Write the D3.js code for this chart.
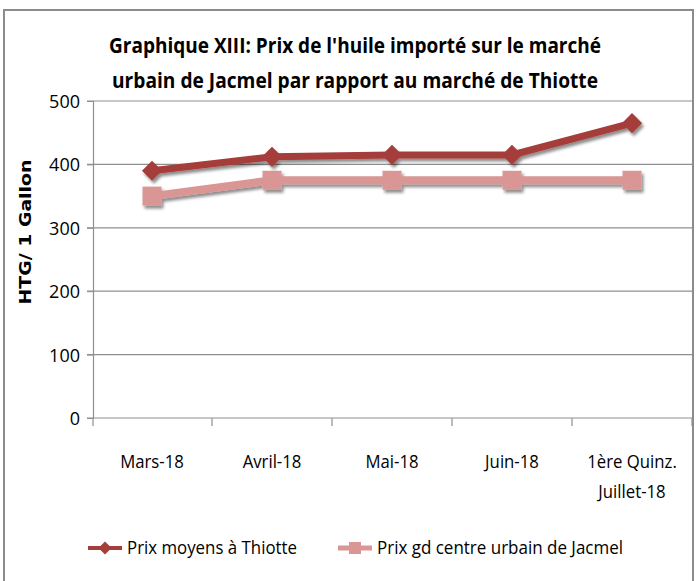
<!DOCTYPE html>
<html>
<head>
<meta charset="utf-8">
<script src="https://cdn.jsdelivr.net/npm/d3@7"></script>
<style>
  body { margin: 0; background: #fff; }
  text { font-family: "Liberation Sans Narrow", "Arial Narrow", "Open Sans", sans-serif; fill: #000; }
</style>
</head>
<body>
<div id="chart"></div>
<script>
var categories = ["Mars-18", "Avril-18", "Mai-18", "Juin-18", "1ère Quinz.|Juillet-18"];
var thiotte = [390, 412, 415, 415, 465];
var jacmel = [350, 375, 375, 375, 375];
var yTicks = [0, 100, 200, 300, 400, 500];
var seriesNames = ["Prix moyens à Thiotte", "Prix gd centre urbain de Jacmel"];
var titleLines = ["Graphique XIII: Prix de l'huile importé sur le marché",
                  "urbain de Jacmel par rapport au marché de Thiotte"];

var width = 696,
    height = 581;

var svg = d3.select("#chart")
  .append("svg")
    .attr("width", width)
    .attr("height", height);

var defs = svg.append("defs");
var shadow = defs.append("filter").attr("id", "shadow")
    .attr("x", "-30%").attr("y", "-30%").attr("width", "160%").attr("height", "160%");
shadow.append("feGaussianBlur").attr("in", "SourceAlpha").attr("stdDeviation", 1.6);
shadow.append("feOffset").attr("dx", 2).attr("dy", 2.5).attr("result", "off");
shadow.append("feComponentTransfer").append("feFuncA").attr("type", "linear").attr("slope", 0.45);
var merge = shadow.append("feMerge");
merge.append("feMergeNode");
merge.append("feMergeNode").attr("in", "SourceGraphic");

// outer frame
svg.append("rect")
  .attr("x", 4).attr("y", 10)
  .attr("width", 689).attr("height", 600)
  .attr("fill", "none")
  .attr("stroke", "#8c8c8c")
  .attr("stroke-width", 2);

var plotLeft = 93, plotRight = 693, plotTop = 101, plotBottom = 418;

var x = d3.scaleBand()
  .domain(categories)
  .range([plotLeft - 1, plotRight - 1]);

var y = d3.scaleLinear()
  .domain([0, 500])
  .range([plotBottom, plotTop]);

// gridlines
svg.append("g")
  .selectAll("line")
  .data(yTicks)
  .enter()
  .append("line")
    .attr("x1", plotLeft - 6).attr("x2", plotRight - 1)
    .attr("y1", function(d){ return y(d); })
    .attr("y2", function(d){ return y(d); })
    .attr("stroke", "#8f8f8f")
    .attr("stroke-width", 1.2);

// y axis
var yAxis = svg.append("g")
  .attr("transform", "translate(" + plotLeft + ",0)")
  .call(d3.axisLeft(y).tickValues(yTicks).tickSize(6).tickPadding(7));
yAxis.select(".domain").attr("stroke", "#8f8f8f").attr("stroke-width", 1.2);
yAxis.selectAll(".tick line").attr("stroke", "#8f8f8f");
yAxis.selectAll(".tick text")
  .style("font-size", "18px")
  .attr("dy", "0.36em");

// x axis ticks (between categories)
svg.append("line")
  .attr("x1", plotLeft).attr("x2", plotLeft)
  .attr("y1", plotBottom).attr("y2", plotBottom + 8)
  .attr("stroke", "#8f8f8f").attr("stroke-width", 1.2);
svg.append("g")
  .selectAll("line")
  .data(categories)
  .enter()
  .append("line")
    .attr("x1", function(d){ return x(d) + x.bandwidth(); })
    .attr("x2", function(d){ return x(d) + x.bandwidth(); })
    .attr("y1", plotBottom).attr("y2", plotBottom + 8)
    .attr("stroke", "#8f8f8f").attr("stroke-width", 1.2);

var labels = svg.append("g")
  .selectAll("text")
  .data(categories)
  .enter()
  .append("text")
    .attr("text-anchor", "middle")
    .style("font-size", "18px")
    .attr("transform", function(d){ return "translate(" + (x(d) + x.bandwidth() / 2) + "," + (plotBottom + 50) + ") scale(0.93,1)"; });
labels.selectAll("tspan")
  .data(function(d){ return d.split("|"); })
  .enter()
  .append("tspan")
    .attr("x", 0)
    .attr("dy", function(d, i){ return i == 0 ? 0 : 30; })
    .text(function(d){ return d; });

// y axis title
svg.append("text")
  .attr("transform", "translate(31,232) rotate(-90)")
  .attr("text-anchor", "middle")
  .style("font-family", "'DejaVu Sans', Verdana, sans-serif")
  .style("font-weight", "bold")
  .style("font-size", "16px")
  .attr("textLength", 145)
  .attr("lengthAdjust", "spacingAndGlyphs")
  .text("HTG/ 1 Gallon");

// title
svg.append("g")
  .selectAll("text")
  .data(titleLines)
  .enter()
  .append("text")
    .attr("x", 355)
    .attr("y", function(d, i){ return 53 + i * 35; })
    .attr("text-anchor", "middle")
    .style("font-size", "21px")
    .style("font-weight", "bold")
    .attr("textLength", function(d, i){ return i == 0 ? 492 : 486; })
    .attr("lengthAdjust", "spacingAndGlyphs")
    .text(function(d){ return d; });

var line = d3.line()
  .x(function(d, i){ return x(categories[i]) + x.bandwidth() / 2; })
  .y(function(d){ return y(d); });

var red = "#a53d3b", pink = "#d99694";

var g2 = svg.append("g").attr("filter", "url(#shadow)");
g2.append("path")
  .datum(jacmel)
  .attr("d", line)
  .attr("fill", "none")
  .attr("stroke", pink)
  .attr("stroke-width", 8);
g2.selectAll("rect")
  .data(jacmel)
  .enter()
  .append("rect")
    .attr("x", function(d, i){ return x(categories[i]) + x.bandwidth() / 2 - 9.5; })
    .attr("y", function(d){ return y(d) - 9.5; })
    .attr("width", 19).attr("height", 19)
    .attr("fill", pink);

var g1 = svg.append("g").attr("filter", "url(#shadow)");
g1.append("path")
  .datum(thiotte)
  .attr("d", line)
  .attr("fill", "none")
  .attr("stroke", red)
  .attr("stroke-width", 7);
var diamond = d3.symbol().type(d3.symbolDiamond2).size(260);
g1.selectAll("path.pt")
  .data(thiotte)
  .enter()
  .append("path")
    .attr("class", "pt")
    .attr("d", diamond)
    .attr("transform", function(d, i){ return "translate(" + (x(categories[i]) + x.bandwidth() / 2) + "," + y(d) + ")"; })
    .attr("fill", red);

// legend
var legend = svg.append("g");
var legX = [88, 338], legLen = [170, 246];
var legItems = legend.selectAll("g")
  .data(seriesNames)
  .enter()
  .append("g")
    .attr("transform", function(d, i){ return "translate(" + legX[i] + ",548)"; });
legItems.append("line")
  .attr("x1", 0).attr("x2", 34)
  .attr("stroke", function(d, i){ return i == 0 ? red : pink; })
  .attr("stroke-width", function(d, i){ return i == 0 ? 4 : 5; });
legItems.filter(function(d, i){ return i == 0; })
  .append("path")
    .attr("d", d3.symbol().type(d3.symbolDiamond2).size(110))
    .attr("transform", "translate(17,0)")
    .attr("fill", red);
legItems.filter(function(d, i){ return i == 1; })
  .append("rect")
    .attr("x", 11).attr("y", -6).attr("width", 12).attr("height", 12)
    .attr("fill", pink);
legItems.append("text")
  .attr("x", 39)
  .attr("dy", "0.35em")
  .style("font-size", "18px")
  .attr("textLength", function(d, i){ return legLen[i]; })
  .attr("lengthAdjust", "spacingAndGlyphs")
  .text(function(d){ return d; });
</script>
</body>
</html>
